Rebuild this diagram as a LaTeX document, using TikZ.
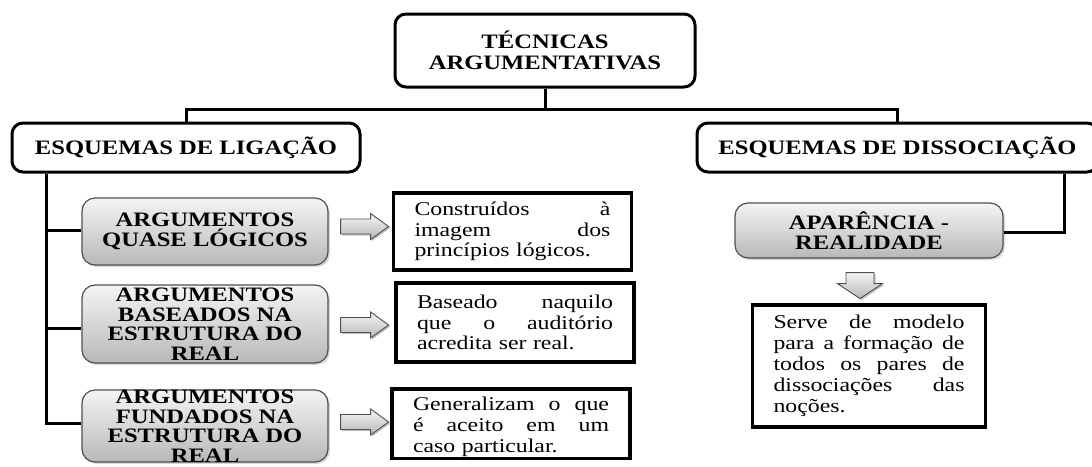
\documentclass[tikz,border=0pt]{standalone}
\usepackage{fontspec}
\setmainfont{Liberation Serif}
\newfontfamily\hdfont[FakeStretch=1.2]{Liberation Serif}
\newfontfamily\bdfont[FakeStretch=1.22]{Liberation Serif}
\usetikzlibrary{shadows,calc}
\definecolor{gtop}{HTML}{F4F4F4}
\definecolor{gbot}{HTML}{B8B8B8}
\definecolor{gedge}{HTML}{505050}
\tikzset{
  hbox/.style={draw=black, line width=3pt, rounded corners=11pt, fill=white, align=center,
    font=\hdfont\bfseries\fontsize{20.5}{21}\selectfont, inner sep=0pt},
  gbox/.style={draw=gedge, line width=1.2pt, rounded corners=13pt, top color=gtop, bottom color=gbot,
    drop shadow={opacity=0.3, shadow xshift=2pt, shadow yshift=-2pt},
    align=center, font=\hdfont\bfseries\fontsize{20.5}{19.5}\selectfont, inner sep=0pt,
    minimum width=246pt},
  tbox/.style={draw=black, line width=3.5pt, fill=white, align=left, text width=196pt,
    inner xsep=21pt, font=\bdfont\fontsize{19.5}{20.5}\selectfont},
  conn/.style={line width=3pt},
  blockarrow/.style={draw=gedge, line width=0.9pt, top color=gtop, bottom color=gbot,
    preaction={fill=black!25, transform canvas={xshift=1.5pt, yshift=-1.5pt}}},
  rarr/.pic={\path[blockarrow] (0,-7.5) -- (30,-7.5) -- (30,-13) -- (48,0) -- (30,13) -- (30,7.5) -- (0,7.5) -- cycle;},
  darr/.pic={\path[blockarrow] (-14,0) -- (14,0) -- (14,11) -- (22.5,11) -- (0,26) -- (-22.5,11) -- (-14,11) -- cycle;}
}
\begin{document}
\begin{tikzpicture}[x=1pt,y=-1pt]
\useasboundingbox (0,0) rectangle (1092,466);
\clip (0,0) rectangle (1092,466);

\node[hbox, minimum width=300pt, minimum height=73pt] (top) at (545,50.5) {TÉCNICAS\\ARGUMENTATIVAS};
\node[hbox, minimum width=348pt, minimum height=49pt] (lig) at (186,147.5) {ESQUEMAS DE LIGAÇÃO};
\node[hbox, minimum width=401pt, minimum height=49pt] (dis) at (897.5,147.5) {ESQUEMAS DE DISSOCIAÇÃO};

\node[gbox, minimum height=67pt] (g1) at (205,231.5) {ARGUMENTOS\\QUASE LÓGICOS};
\node[gbox, minimum height=78pt] (g2) at (205,324) {ARGUMENTOS\\BASEADOS NA\\ESTRUTURA DO\\REAL};
\node[gbox, minimum height=72pt] (g3) at (205,426) {ARGUMENTOS\\FUNDADOS NA\\ESTRUTURA DO\\REAL};

\node[tbox, minimum height=77pt] (t1) at (512.5,231.5) {Construídos\hfill à\\imagem\hfill dos\\princípios lógicos.};
\node[tbox, minimum height=79pt] (t2) at (515,322.5) {Baseado\hfill naquilo\\que\hfill o\hfill auditório\\acredita ser real.};
\node[tbox, anchor=north, inner ysep=8pt, text depth=40pt, font=\bdfont\fontsize{19.5}{21}\selectfont] (t3) at (511,387) {Generalizam\hfill o\hfill que\\é\hfill aceito\hfill em\hfill um\\caso particular.};

\node[gbox, minimum width=268pt, minimum height=55pt, font=\hdfont\bfseries\fontsize{20.5}{20}\selectfont] (ap) at (869,230.5) {APARÊNCIA -\\REALIDADE};
\node[tbox, text width=191pt, minimum height=122pt, font=\bdfont\fontsize{19.5}{21}\selectfont] (tr) at (869,366) {Serve\hfill de\hfill modelo\\para\hfill a\hfill formação\hfill de\\todos\hfill os\hfill pares\hfill de\\dissociações\hfill das\\noções.};

% connectors
\coordinate (bus) at ($(top.south)+(0,21)$);
\draw[conn] (top.south) -- (bus);
\draw[conn] (lig.north) |- (bus) -| (dis.north);
\coordinate (lv) at ($(lig.south west)+(36,0)$);
\draw[conn] (lv) |- ($(g1.west)+(0,-1.5)$);
\draw[conn] (lv) |- ($(g2.west)+(0,4)$);
\draw[conn] (lv) |- ($(g3.west)+(0,-3)$);
\draw[conn] ($(dis.south east)+(-35,0)$) |- ($(ap.east)+(0,1.5)$);

% block arrows
\pic at ($(g1.east)+(12,-5)$) {rarr};
\pic at ($(g2.east)+(12,1)$) {rarr};
\pic at ($(g3.east)+(12,-4)$) {rarr};
\pic at ($(ap.south)+(-9,14)$) {darr};
\end{tikzpicture}
\end{document}
